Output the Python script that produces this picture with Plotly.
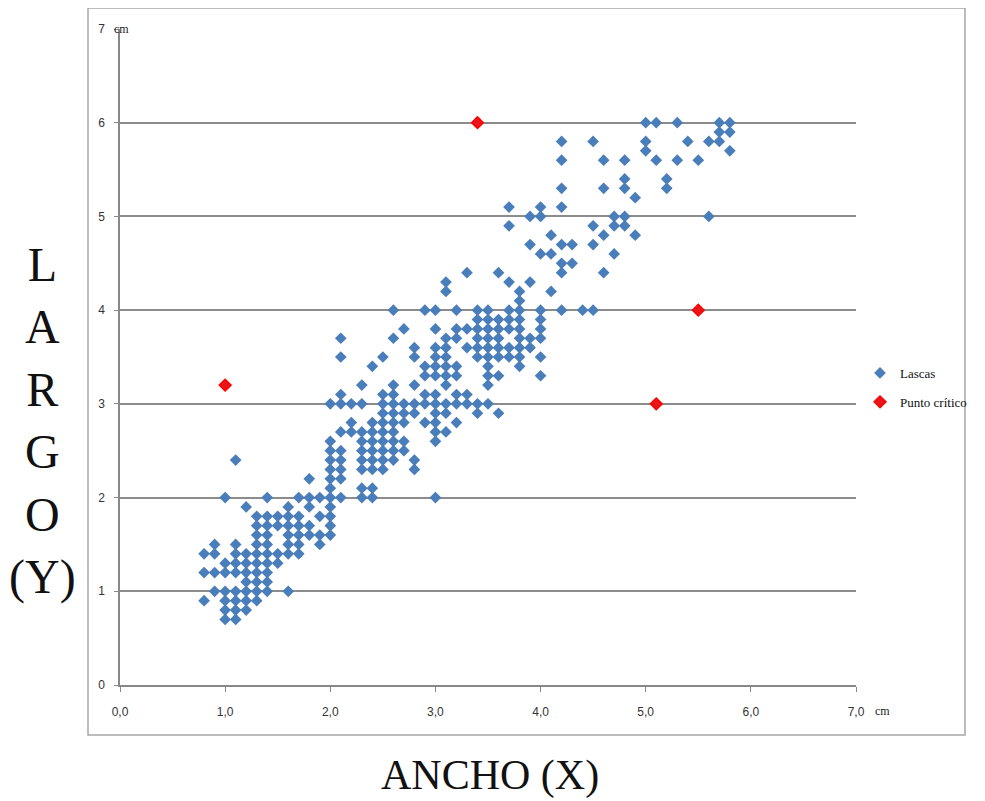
import plotly.graph_objects as go

# ---- data (cm) ----
ancho_cols = [0.8, 0.9, 1.0, 1.1, 1.2, 1.3, 1.4, 1.5, 1.6, 1.7, 1.8, 1.9, 2.0, 2.1, 2.2, 2.3, 2.4,
              2.5, 2.6, 2.7, 2.8, 2.9, 3.0, 3.1, 3.2, 3.3, 3.4, 3.5, 3.6, 3.7, 3.8, 3.9, 4.0,
              4.1, 4.2, 4.3, 4.4, 4.5, 4.6, 4.7, 4.8, 4.9, 5.0, 5.1, 5.2, 5.3, 5.4, 5.5, 5.6,
              5.7, 5.8]
largo_cols = [
    [0.9, 1.2, 1.4],
    [1.0, 1.2, 1.4, 1.5],
    [0.7, 0.8, 0.9, 1.0, 1.2, 1.3, 2.0],
    [0.7, 0.8, 0.9, 1.0, 1.2, 1.3, 1.4, 1.5, 2.4],
    [0.8, 0.9, 1.0, 1.1, 1.2, 1.3, 1.4, 1.9],
    [0.9, 1.0, 1.1, 1.2, 1.3, 1.4, 1.5, 1.6, 1.7, 1.8],
    [1.0, 1.1, 1.2, 1.3, 1.4, 1.5, 1.6, 1.7, 1.8, 2.0],
    [1.3, 1.4, 1.7, 1.8],
    [1.0, 1.4, 1.5, 1.6, 1.7, 1.8, 1.9],
    [1.4, 1.5, 1.6, 1.7, 1.8, 2.0],
    [1.6, 1.7, 1.9, 2.0, 2.2],
    [1.5, 1.6, 1.8, 2.0],
    [1.6, 1.7, 1.8, 1.9, 2.0, 2.1, 2.2, 2.3, 2.4, 2.5, 2.6, 3.0],
    [2.0, 2.2, 2.3, 2.4, 2.5, 2.7, 3.0, 3.1, 3.5, 3.7],
    [2.7, 2.8, 3.0],
    [2.0, 2.1, 2.3, 2.4, 2.5, 2.6, 2.7, 3.0, 3.2],
    [2.0, 2.1, 2.3, 2.4, 2.5, 2.6, 2.7, 2.8, 3.4],
    [2.3, 2.4, 2.5, 2.6, 2.7, 2.8, 2.9, 3.0, 3.1, 3.5],
    [2.4, 2.5, 2.6, 2.7, 2.8, 2.9, 3.0, 3.1, 3.2, 3.7, 4.0],
    [2.5, 2.6, 2.8, 2.9, 3.0, 3.8],
    [2.3, 2.4, 2.9, 3.0, 3.2, 3.5, 3.6],
    [2.8, 3.0, 3.1, 3.3, 3.4, 4.0],
    [2.0, 2.6, 2.7, 2.8, 2.9, 3.0, 3.1, 3.3, 3.4, 3.5, 3.6, 3.8, 4.0],
    [2.7, 2.9, 3.0, 3.2, 3.3, 3.4, 3.5, 3.6, 3.7, 4.2, 4.3],
    [2.8, 3.0, 3.1, 3.3, 3.4, 3.7, 3.8, 4.0],
    [3.0, 3.1, 3.6, 3.8, 4.4],
    [2.9, 3.0, 3.5, 3.6, 3.7, 3.8, 3.9, 4.0],
    [3.0, 3.2, 3.3, 3.4, 3.5, 3.6, 3.7, 3.8, 3.9, 4.0],
    [2.9, 3.3, 3.5, 3.6, 3.7, 3.8, 3.9, 4.4],
    [3.5, 3.6, 3.8, 3.9, 4.0, 4.3, 4.9, 5.1],
    [3.4, 3.5, 3.6, 3.7, 3.8, 3.9, 4.0, 4.1, 4.2],
    [3.6, 3.7, 4.3, 4.7, 5.0],
    [3.3, 3.5, 3.7, 3.8, 3.9, 4.0, 4.6, 5.0, 5.1],
    [4.2, 4.6, 4.8],
    [4.0, 4.4, 4.5, 4.7, 5.1, 5.3, 5.6, 5.8],
    [4.5, 4.7],
    [4.0],
    [4.0, 4.7, 4.9, 5.8],
    [4.4, 4.8, 5.3, 5.6],
    [4.6, 4.9, 5.0],
    [4.9, 5.0, 5.3, 5.4, 5.6],
    [4.8, 5.2],
    [5.7, 5.8, 6.0],
    [5.6, 6.0],
    [5.3, 5.4],
    [5.6, 6.0],
    [5.8],
    [5.6],
    [5.0, 5.8],
    [5.8, 5.9, 6.0],
    [5.7, 5.9, 6.0],
]
critico_x = [1.0, 3.4, 5.1, 5.5]
critico_y = [3.2, 6.0, 3.0, 4.0]

x_ticks = [0, 1, 2, 3, 4, 5, 6, 7]
x_ticktext = ["0,0", "1,0", "2,0", "3,0", "4,0", "5,0", "6,0", "7,0"]
y_ticks = [0, 1, 2, 3, 4, 5, 6, 7]
y_ticktext = ["0", "1", "2", "3", "4", "5", "6", "7"]

lascas_x = [x for x, ys in zip(ancho_cols, largo_cols) for _ in ys]
lascas_y = [y for ys in largo_cols for y in ys]

# ---- layout geometry (page has an 8px body margin) ----
OFF = 8
W, H = 985 - OFF, 801 - OFF
PL, PR, PT, PB = 120 - OFF, 856 - OFF, 29 - OFF, 685 - OFF
pw, ph = PR - PL, PB - PT


def px(x):
    return (x - OFF - PL) / pw


def py(y):
    return (PB - (y - OFF)) / ph


fig = go.Figure()
fig.add_trace(go.Scatter(
    x=lascas_x, y=lascas_y, mode="markers", name="Lascas", legendgroup="a",
    marker=dict(symbol="diamond", size=9, color="#4a7ebb", line=dict(width=0)),
))
fig.add_trace(go.Scatter(
    x=critico_x, y=critico_y, mode="markers", name="Punto crítico", legendgroup="b",
    marker=dict(symbol="diamond", size=9, color="#e8161b", line=dict(width=1.5, color="#ff0000")),
))

tick_font = dict(family="Liberation Sans, Arial", size=12, color="#333333")
fig.update_layout(
    width=W, height=H,
    margin=dict(l=PL, r=W - PR, t=PT, b=H - PB),
    paper_bgcolor="white", plot_bgcolor="white",
    showlegend=True,
    legend=dict(x=px(860), y=py(358), xanchor="left", yanchor="top",
                font=dict(family="Liberation Serif, Times New Roman", size=13, color="#111"),
                bgcolor="rgba(0,0,0,0)", itemsizing="trace", tracegroupgap=9,
                borderwidth=0),
    xaxis=dict(range=[0, 7], tickvals=x_ticks, ticktext=x_ticktext, showgrid=False,
               zeroline=False, showline=True, linecolor="#888888", linewidth=1.5,
               ticks="outside", ticklen=5, tickcolor="#888888", tickfont=tick_font,
               ticklabelstandoff=10),
    yaxis=dict(range=[0, 7], tickvals=y_ticks, ticktext=y_ticktext, showgrid=True,
               gridcolor="#8c8c8c", gridwidth=1.5, zeroline=False, showline=True,
               linecolor="#888888", linewidth=1.5, ticks="outside", ticklen=4,
               tickcolor="#888888", tickfont=tick_font, ticklabelstandoff=7),
    shapes=[dict(type="rect", xref="paper", yref="paper",
                 x0=px(88), x1=px(965), y0=py(735), y1=py(8),
                 line=dict(color="#a6a6a6", width=1.5), layer="below")],
    annotations=[
        dict(text="cm", xref="paper", yref="paper", x=px(112), y=py(29),
             xanchor="left", yanchor="middle", showarrow=False,
             font=dict(family="Liberation Serif, Times New Roman", size=12, color="#222")),
        dict(text="cm", xref="paper", yref="paper", x=px(873), y=py(711),
             xanchor="left", yanchor="middle", showarrow=False,
             font=dict(family="Liberation Serif, Times New Roman", size=12, color="#222")),
        dict(text="L<br>A<br>R<br>G<br>O<br>(Y)", xref="paper", yref="paper",
             x=px(42), y=py(421), xanchor="center", yanchor="middle", showarrow=False,
             font=dict(family="Liberation Serif, Times New Roman", size=48, color="#111")),
        dict(text="ANCHO (X)", xref="paper", yref="paper", x=px(490), y=py(775),
             xanchor="center", yanchor="middle", showarrow=False,
             font=dict(family="Liberation Serif, Times New Roman", size=42, color="#111")),
    ],
)

fig.write_html("out.html")
